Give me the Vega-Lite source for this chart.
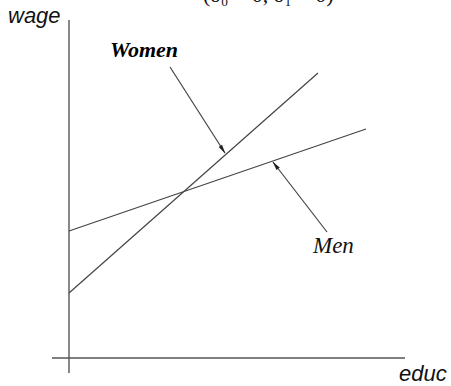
{
  "$schema": "https://vega.github.io/schema/vega-lite/v6.json",
  "width": 451,
  "height": 386,
  "padding": 0,
  "autosize": "none",
  "background": "white",
  "config": {"view": {"stroke": null}},
  "datasets": {
    "segs": [
      {"part": "wage axis", "x": 0, "y": -1.5, "x2": 0, "y2": 33.8},
      {"part": "educ axis", "x": -1.7, "y": 0, "x2": 33.6, "y2": 0},
      {"part": "Men", "x": 0, "y": 12.7, "x2": 29.7, "y2": 22.9},
      {"part": "Women", "x": 0, "y": 6.5, "x2": 24.9, "y2": 28.5},
      {"part": "Women arrow", "x": 10.1, "y": 29.1, "x2": 15.6, "y2": 20.5},
      {"part": "Men arrow", "x": 25.8, "y": 12.6, "x2": 20.4, "y2": 19.6}
    ],
    "heads": [
      {"part": "Women arrow", "x": 15.38, "y": 20.84, "angle": 147.4},
      {"part": "Men arrow", "x": 20.64, "y": 19.28, "angle": 322.4}
    ],
    "labels": [
      {"label": "wage", "x": -6.1, "y": 33.5},
      {"label": "educ", "x": 33.0, "y": -2.3},
      {"label": "Women", "x": 4.1, "y": 30.1},
      {"label": "Men", "x": 24.4, "y": 10.5},
      {"label": "(δ₀ < 0, δ₁ > 0)", "x": 13.4, "y": 35.6}
    ]
  },
  "encoding": {
    "x": {"field": "x", "type": "quantitative", "scale": {"domain": [-6.9, 38.2], "nice": false, "zero": false}, "axis": null},
    "y": {"field": "y", "type": "quantitative", "scale": {"domain": [-2.8, 35.8], "nice": false, "zero": false}, "axis": null}
  },
  "layer": [
    {
      "data": {"name": "segs"},
      "transform": [{"filter": "indexof(datum.part, 'axis') >= 0"}],
      "mark": {"type": "rule", "color": "#555555", "strokeWidth": 1.4},
      "encoding": {"x2": {"field": "x2"}, "y2": {"field": "y2"}}
    },
    {
      "data": {"name": "segs"},
      "transform": [{"filter": "indexof(datum.part, 'axis') < 0"}],
      "mark": {"type": "rule", "color": "#444444", "strokeWidth": 1.2},
      "encoding": {"x2": {"field": "x2"}, "y2": {"field": "y2"}}
    },
    {
      "data": {"name": "heads"},
      "mark": {"type": "point", "shape": "M0,-1L0.45,1L-0.45,1Z", "filled": true, "color": "#222222", "size": 81, "opacity": 1},
      "encoding": {"angle": {"field": "angle", "type": "quantitative", "scale": null}}
    },
    {
      "data": {"name": "labels"},
      "transform": [{"filter": "datum.label == 'wage' || datum.label == 'educ'"}],
      "mark": {"type": "text", "font": "Liberation Sans", "fontStyle": "italic", "fontSize": 22, "align": "left", "baseline": "alphabetic", "color": "#111111"},
      "encoding": {"text": {"field": "label"}}
    },
    {
      "data": {"name": "labels"},
      "transform": [{"filter": "datum.label == 'Women'"}],
      "mark": {"type": "text", "font": "Liberation Serif", "fontStyle": "italic", "fontWeight": "bold", "fontSize": 22, "align": "left", "baseline": "alphabetic", "color": "#000000"},
      "encoding": {"text": {"field": "label"}}
    },
    {
      "data": {"name": "labels"},
      "transform": [{"filter": "datum.label == 'Men'"}],
      "mark": {"type": "text", "font": "Liberation Serif", "fontStyle": "italic", "fontSize": 23, "align": "left", "baseline": "alphabetic", "color": "#111111"},
      "encoding": {"text": {"field": "label"}}
    },
    {
      "data": {"name": "labels"},
      "transform": [{"filter": "indexof(datum.label, '(') == 0"}],
      "mark": {"type": "text", "font": "Liberation Serif", "fontSize": 22, "align": "left", "baseline": "alphabetic", "color": "#111111"},
      "encoding": {"text": {"field": "label"}}
    }
  ]
}
